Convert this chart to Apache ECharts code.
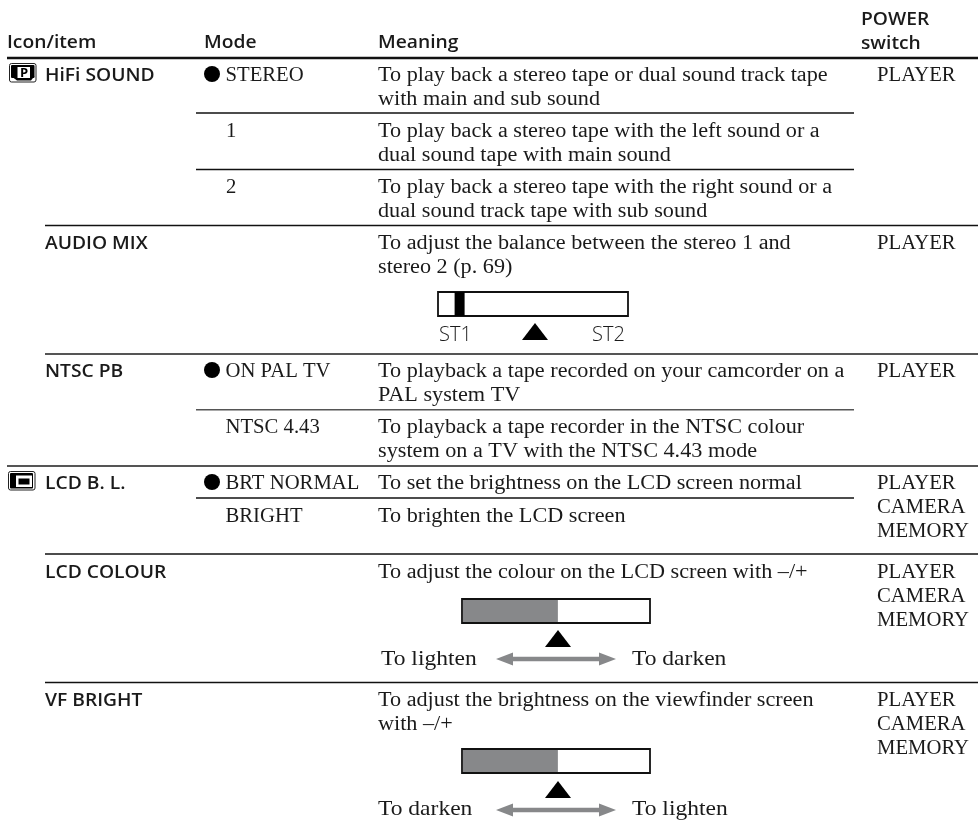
<!DOCTYPE html>
<html><head><meta charset="utf-8">
<style>html,body{margin:0;padding:0;background:#fff}#c{width:978px;height:829px}</style>
<script src="https://cdn.jsdelivr.net/npm/echarts@6/dist/echarts.min.js"></script>
</head><body><div id="c"></div>
<script>
// ---- table content ----
const headers = ["Icon/item", "Mode", "Meaning"];
const powerHeader = ["POWER", "switch"];
const items = ["HiFi SOUND", "AUDIO MIX", "NTSC PB", "LCD B. L.", "LCD COLOUR", "VF BRIGHT"];
const modes = ["STEREO", "1", "2", "ON PAL TV", "NTSC 4.43", "BRT NORMAL", "BRIGHT"];
const meanings = [
  ["To play back a stereo tape or dual sound track tape", "with main and sub sound"],
  ["To play back a stereo tape with the left sound or a", "dual sound tape with main sound"],
  ["To play back a stereo tape with the right sound or a", "dual sound track tape with sub sound"],
  ["To adjust the balance between the stereo 1 and", "stereo 2 (p. 69)"],
  ["To playback a tape recorded on your camcorder on a", "PAL system TV"],
  ["To playback a tape recorder in the NTSC colour", "system on a TV with the NTSC 4.43 mode"],
  ["To set the brightness on the LCD screen normal"],
  ["To brighten the LCD screen"],
  ["To adjust the colour on the LCD screen with –/+"],
  ["To adjust the brightness on the viewfinder screen", "with –/+"]
];
const powers = [["PLAYER"], ["PLAYER"], ["PLAYER"], ["PLAYER", "CAMERA", "MEMORY"], ["PLAYER", "CAMERA", "MEMORY"], ["PLAYER", "CAMERA", "MEMORY"]];
const scaleLabels = ["ST1", "ST2"];
const colourLabels = ["To lighten", "To darken"];
const brightLabels = ["To darken", "To lighten"];
const sliderLevels = [0.09, 0.51, 0.51];

// ---- layout ----
const SERIF = '"Liberation Serif", serif', SANS = '"Open Sans", sans-serif';
const fBody = {font: '20px ' + SERIF, sx: 1.11, up: 15.5};
const fCaps = {font: '20px ' + SERIF, sx: 1.035, up: 15.5};
const fWide = {font: '21px ' + SERIF, sx: 1.12, up: 16.3};
const fHead = {font: '600 18.5px ' + SANS, sx: 1.04, up: 15};
const fScale = {font: '300 20px ' + SANS, sx: 1, up: 16.2};
const INK = '#1a1a1a';
const itemY = [81, 249, 377, 489, 578, 706];
const modeY = [81, 137, 193, 377, 433, 489, 522];
const meaningY = [81, 137, 193, 249, 377, 433, 489, 522, 578, 706];
const powerY = [81, 249, 377, 489, 578, 706];
const rules = [[7, 978, 58, 2.4, '#111'], [196, 854, 113, 1.4, '#111'], [196, 854, 169.5, 1.4, '#111'], [45, 978, 225.5, 1.4, '#111'],
  [45, 978, 354, 2, '#555'], [196, 854, 409.7, 1.6, '#555'], [7, 978, 466, 2, '#555'], [196, 854, 498, 1.4, '#111'],
  [45, 978, 554, 1.4, '#111'], [45, 978, 682.5, 1.4, '#111']];

// ---- build marks ----
const marks = [];
const T = (text, x, y, f, fill) => marks.push({k: 't', text, x, y, f, fill: fill || INK});
const L = (x, x2, y, w, c) => marks.push({k: 'l', x, y, x2, y2: y, w, c});
const R = (x, y, x2, y2, fill, stroke, w, r) => marks.push({k: 'r', x, y, x2, y2, fill, stroke, w, r: r || 0});
const P = (pts, fill) => marks.push({k: 'p', x: pts[0][0], y: pts[0][1], pts, fill});
const C = (x, y, r, fill) => marks.push({k: 'c', x, y, r, fill});

[7, 204, 378].forEach((x, i) => T(headers[i], x, 48, fHead));
T(powerHeader[0], 861, 25, fHead); T(powerHeader[1], 861, 49, fHead);
rules.forEach(r => L(r[0], r[1], r[2], r[3], r[4]));
items.forEach((s, i) => T(s, 45, itemY[i], fHead));
modes.forEach((s, i) => T(s, s.length === 1 ? 226 : 225.5, modeY[i], fCaps));
[0, 3, 5].forEach(i => C(212, modeY[i] - 7, 8, '#000'));
meanings.forEach((lines, i) => lines.forEach((s, j) => T(s, 378, meaningY[i] + j * 24, fBody)));
powers.forEach((lines, i) => lines.forEach((s, j) => T(s, 877, powerY[i] + j * 24, fCaps)));

// P icon
R(9.5, 63.5, 36, 82, '#fff', '#222', 1, 2);
R(11, 65, 34.5, 78, '#000', null, 0, 1);
P([[11, 76], [17, 80.5], [31, 80.5], [34.5, 76]], '#000');
R(17.5, 67, 30, 78, '#fff', null, 0);
T('P', 20, 77.5, {font: 'bold 13px ' + SANS, sx: 1, up: 10.5}, '#000');
// LCD icon
R(8.5, 471.5, 35, 490, '#fff', '#222', 1, 2);
R(10, 473, 33, 488.5, '#000', null, 0, 1);
R(16, 475.5, 32, 487, '#fff', null, 0);
R(18.5, 478.5, 29.5, 484.5, '#000', null, 0);

// audio slider
const triangle = (cx, y) => P([[cx, y], [cx + 13, y + 17], [cx - 13, y + 17]], '#000');
const arrow = (x1, x2, y) => P([[x1, y], [x1 + 17, y - 6.5], [x1 + 17, y - 2.2], [x2 - 17, y - 2.2], [x2 - 17, y - 6.5], [x2, y], [x2 - 17, y + 6.5], [x2 - 17, y + 2.2], [x1 + 17, y + 2.2], [x1 + 17, y + 6.5]], '#87888a');
const ax = 438, aw = 190;
R(ax, 292, ax + aw, 316, '#fff', '#111', 1.8);
R(ax + aw * sliderLevels[0] - 0.5, 292, ax + aw * sliderLevels[0] + 9.5, 316, '#000', null, 0);
T(scaleLabels[0], 439, 341, fScale); T(scaleLabels[1], 592, 341, fScale);
triangle(535, 323);
// colour and brightness sliders
[[599, 630, 665, 659, colourLabels, 381, 1], [749, 781, 815, 810, brightLabels, 378, 2]].forEach(([top, tri, base, ay, labs, lx, idx]) => {
  const x = 462, w = 188;
  R(x, top, x + w, top + 24, '#fff', '#111', 1.8);
  R(x + 1, top + 1, x + w * sliderLevels[idx], top + 23, '#87888a', null, 0);
  triangle(558, tri);
  arrow(496, 616, ay);
  T(labs[0], lx, base, fWide); T(labs[1], 632, base, fWide);
});

const chart = echarts.init(document.getElementById('c'), null, {renderer: 'canvas'});
chart.setOption({
  animation: false,
  backgroundColor: '#fff',
  grid: {left: 0, right: 0, top: 0, bottom: 0},
  xAxis: {type: 'value', min: 0, max: 978, show: false},
  yAxis: {type: 'value', min: 0, max: 829, inverse: true, show: false},
  tooltip: {show: false},
  series: [{
    type: 'custom', clip: false, silent: true,
    data: marks.map((m, i) => [m.x, m.y, i]),
    encode: {x: 0, y: 1},
    renderItem(params, api) {
      const m = marks[api.value(2)];
      const c = (x, y) => api.coord([x, y]);
      const [x, y] = c(m.x, m.y);
      if (m.k === 't') return {type: 'text', x, y: y - m.f.up, scaleX: m.f.sx, style: {text: m.text, x: 0, y: 0, font: m.f.font, fill: m.fill, textAlign: 'left', verticalAlign: 'top'}};
      if (m.k === 'l') { const e = c(m.x2, m.y2); return {type: 'line', shape: {x1: x, y1: y, x2: e[0], y2: e[1]}, style: {stroke: m.c, lineWidth: m.w}}; }
      if (m.k === 'r') { const e = c(m.x2, m.y2); return {type: 'rect', shape: {x, y, width: e[0] - x, height: e[1] - y, r: m.r}, style: {fill: m.fill, stroke: m.stroke, lineWidth: m.w}}; }
      if (m.k === 'p') return {type: 'polygon', shape: {points: m.pts.map(p => c(p[0], p[1]))}, style: {fill: m.fill}};
      return {type: 'circle', shape: {cx: x, cy: y, r: m.r}, style: {fill: m.fill}};
    }
  }]
});
</script></body></html>
